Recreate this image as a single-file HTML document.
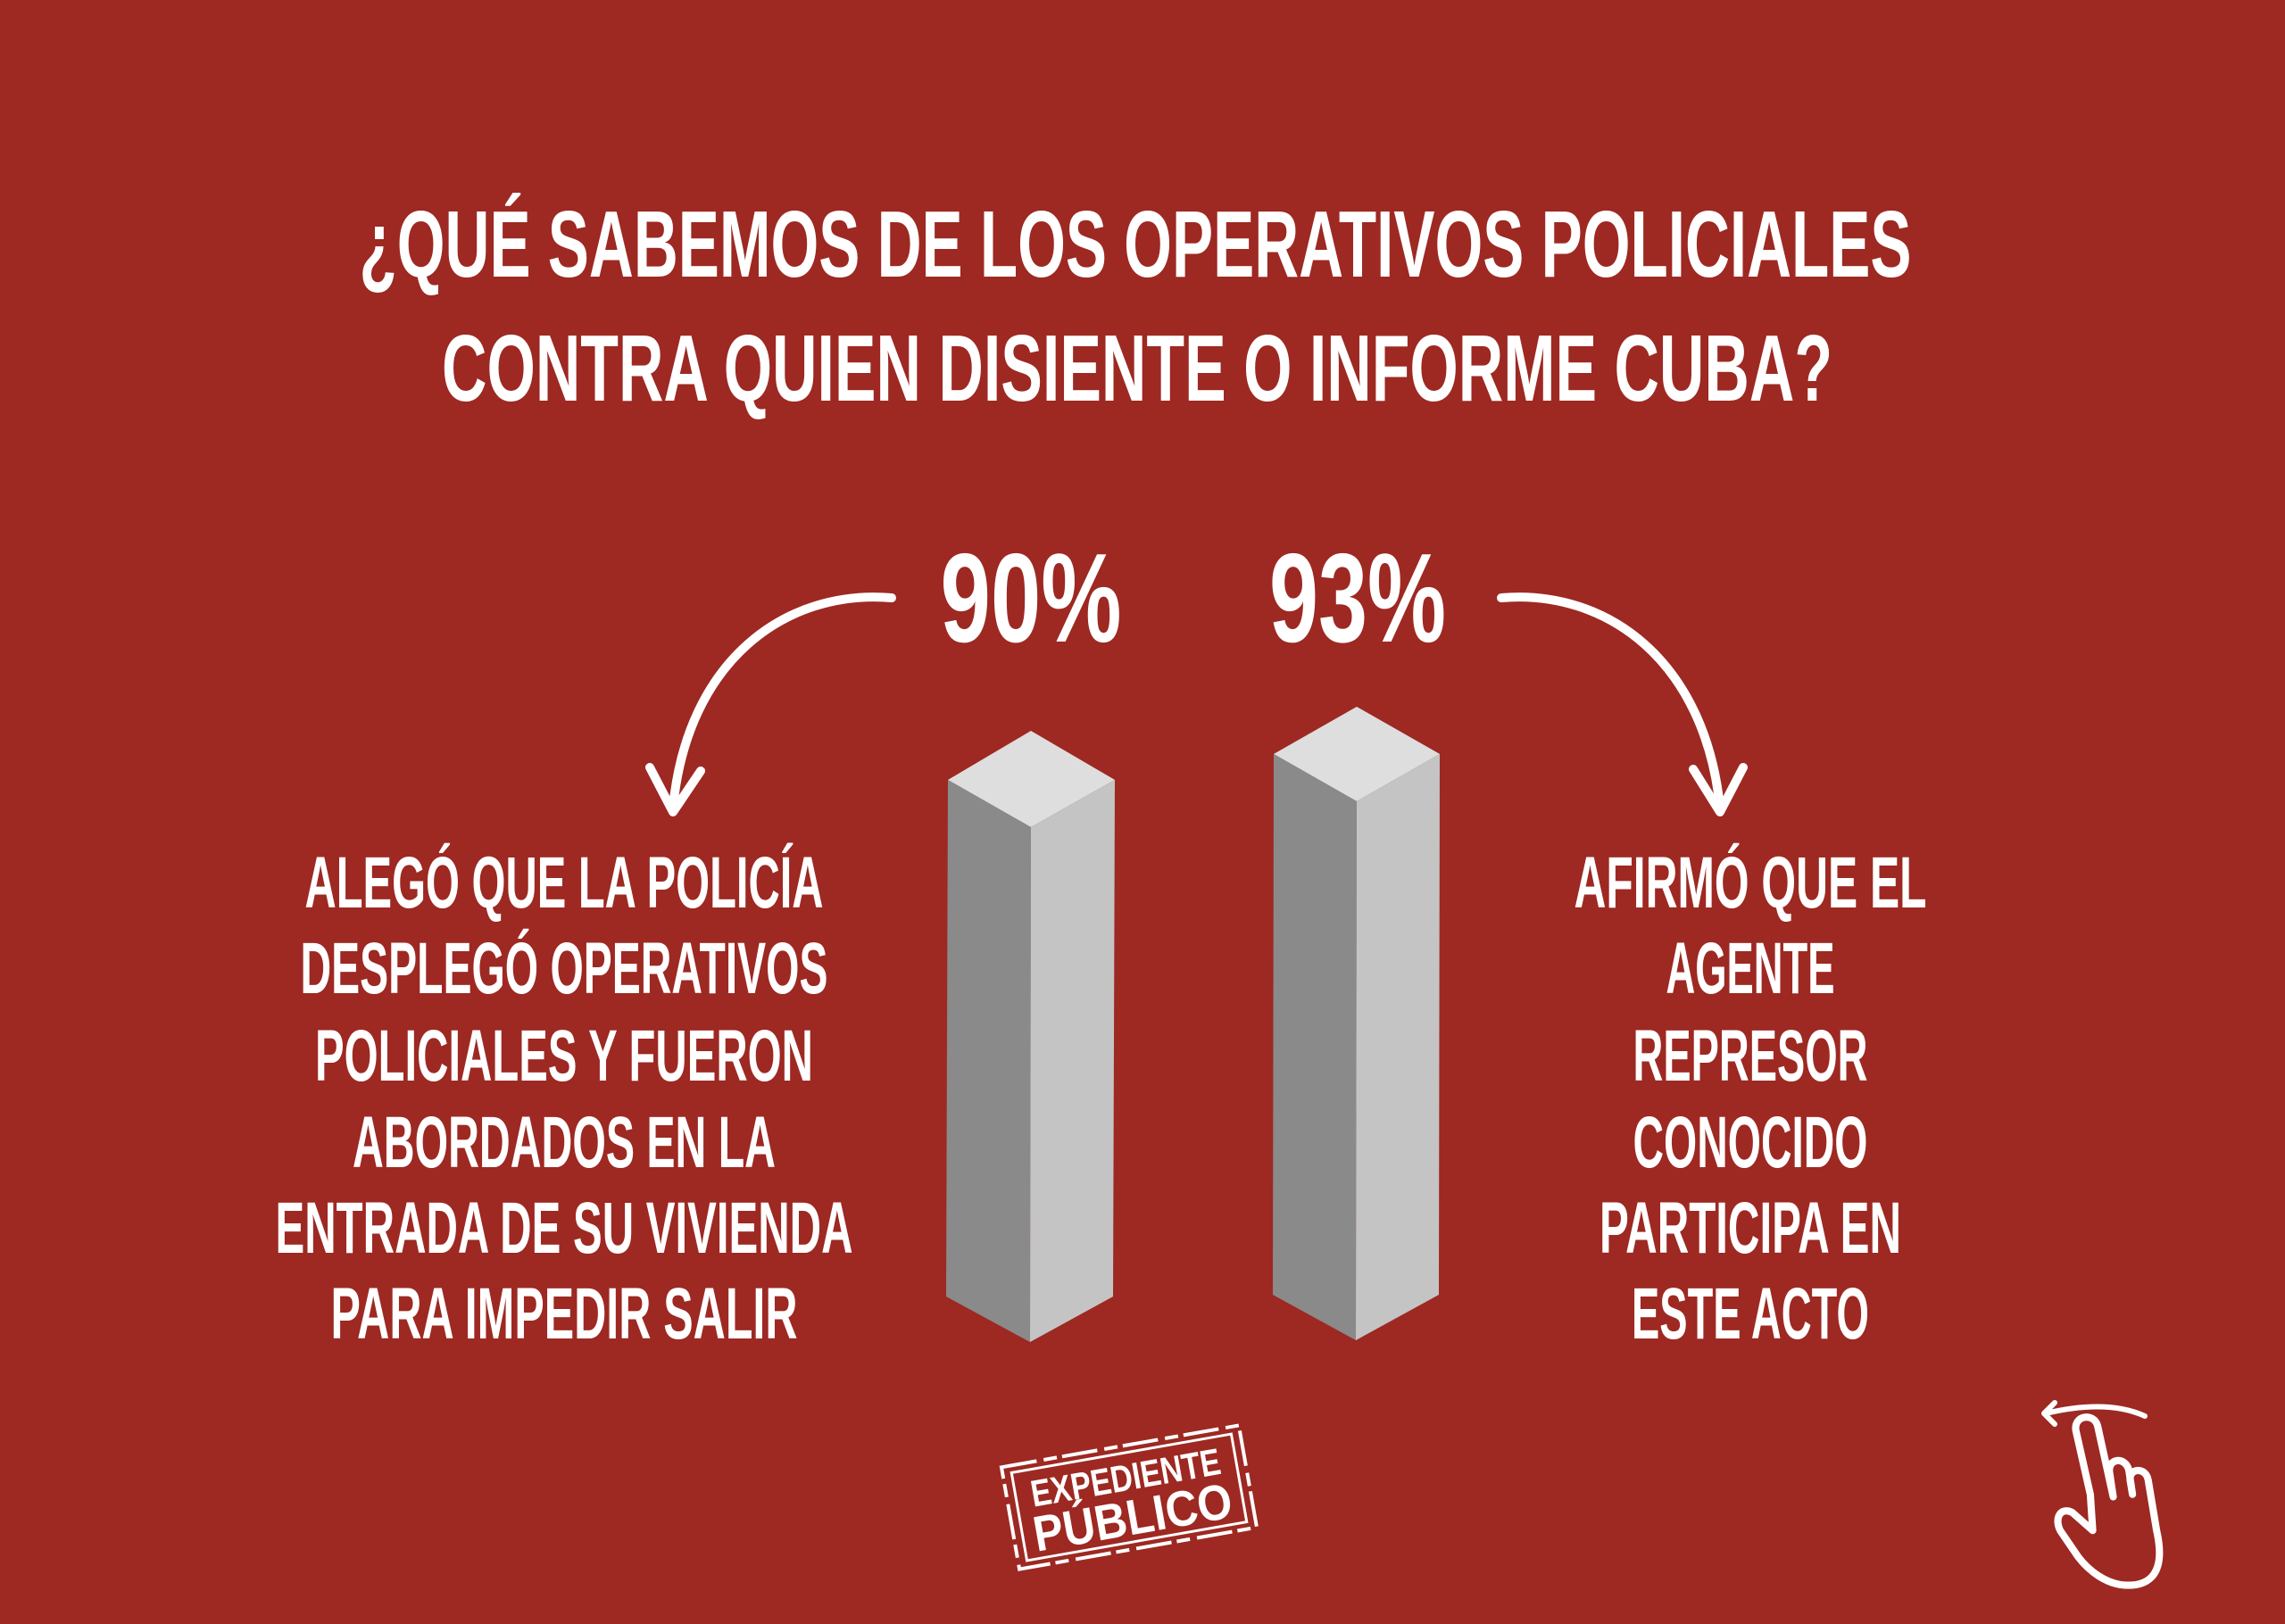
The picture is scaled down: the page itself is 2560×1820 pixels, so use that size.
<!DOCTYPE html>
<html><head><meta charset="utf-8"><style>
html,body{margin:0;padding:0;background:#9d2922}
svg{display:block}
text{font-family:"Liberation Sans Narrow","Liberation Sans",sans-serif;font-weight:bold;fill:#fff}
</style></head><body>
<svg width="2560" height="1820" viewBox="0 0 2560 1820" xmlns="http://www.w3.org/2000/svg">
<rect width="2560" height="1820" fill="#9d2922"/>
<g font-size="106">
<text x="1272" y="310" text-anchor="middle" textLength="1739" lengthAdjust="spacingAndGlyphs">¿QUÉ SABEMOS DE LOS OPERATIVOS POLICIALES</text>
<text x="1274" y="449" text-anchor="middle" textLength="1558" lengthAdjust="spacingAndGlyphs">CONTRA QUIEN DISIENTE O INFORME CUBA?</text>
</g>
<g font-size="142">
<text x="1155" y="719" text-anchor="middle" textLength="203" lengthAdjust="spacingAndGlyphs">90%</text>
<text x="1521" y="719" text-anchor="middle" textLength="198" lengthAdjust="spacingAndGlyphs">93%</text>
</g>
<!-- bar 1 -->
<polygon points="1155,819 1249,874 1155,927 1062,874" fill="#dedede"/>
<polygon points="1062,874 1155,927 1154,1504 1060,1453" fill="#8a8a8a"/>
<polygon points="1155,927 1249,874 1247,1453 1154,1504" fill="#c4c4c4"/>
<!-- bar 2 -->
<polygon points="1520,792 1613,845 1520,898 1427,845" fill="#dedede"/>
<polygon points="1427,845 1520,898 1519,1502 1426,1451" fill="#8a8a8a"/>
<polygon points="1520,898 1613,845 1612,1451 1519,1502" fill="#c4c4c4"/>
<!-- arrows -->
<g fill="none" stroke="#fff" stroke-width="10" stroke-linecap="round" stroke-linejoin="round">
<path d="M999,670 C880,660 770,740 754,905"/>
<path d="M728,860 L754,910 L785,864"/>
<path d="M1682,670 C1800,660 1910,740 1927,905"/>
<path d="M1897,862 L1927,910 L1953,860"/>
</g>
<g font-size="82">
<text x="632" y="1017" text-anchor="middle" textLength="581" lengthAdjust="spacingAndGlyphs">ALEGÓ QUE LA POLICÍA</text>
<text x="632" y="1113" text-anchor="middle" textLength="591" lengthAdjust="spacingAndGlyphs">DESPLEGÓ OPERATIVOS</text>
<text x="632" y="1211" text-anchor="middle" textLength="558" lengthAdjust="spacingAndGlyphs">POLICIALES Y FUERON</text>
<text x="632" y="1308" text-anchor="middle" textLength="474" lengthAdjust="spacingAndGlyphs">ABORDADOS EN LA</text>
<text x="632" y="1404" text-anchor="middle" textLength="647" lengthAdjust="spacingAndGlyphs">ENTRADA DE SU VIVIENDA</text>
<text x="632" y="1500" text-anchor="middle" textLength="523" lengthAdjust="spacingAndGlyphs">PARA IMPEDIR SALIR</text>
<text x="1961" y="1017" text-anchor="middle" textLength="395" lengthAdjust="spacingAndGlyphs">AFIRMÓ QUE EL</text>
<text x="1961" y="1113" text-anchor="middle" textLength="189" lengthAdjust="spacingAndGlyphs">AGENTE</text>
<text x="1961" y="1211" text-anchor="middle" textLength="263" lengthAdjust="spacingAndGlyphs">REPRESOR</text>
<text x="1961" y="1308" text-anchor="middle" textLength="263" lengthAdjust="spacingAndGlyphs">CONOCIDO</text>
<text x="1961" y="1404" text-anchor="middle" textLength="338" lengthAdjust="spacingAndGlyphs">PARTICIPA EN</text>
<text x="1961" y="1500" text-anchor="middle" textLength="266" lengthAdjust="spacingAndGlyphs">ESTE ACTO</text>
</g>
<!-- logo stamp -->
<g transform="translate(1265,1678) rotate(-10)">
<rect x="-135" y="-58" width="270" height="116" fill="none" stroke="#fff" stroke-width="4" stroke-dasharray="40 8 15 6"/>
<rect x="-125" y="-50" width="250" height="100" fill="none" stroke="#fff" stroke-width="3"/>
<text x="0" y="-8" text-anchor="middle" font-size="42" textLength="215" lengthAdjust="spacingAndGlyphs">EXPEDIENTE</text>
<text x="0" y="42" text-anchor="middle" font-size="56" textLength="225" lengthAdjust="spacingAndGlyphs">PÚBLICO</text>
</g>
<!-- hand icon -->
<g fill="none" stroke="#fff" stroke-width="6" stroke-linecap="round" stroke-linejoin="round">
<path d="M2403,1587 C2370,1572 2330,1575 2292,1584"/>
<path d="M2302,1572 L2290,1584 L2302,1596"/>
<g transform="translate(2296,1560) scale(1.35) translate(-2296,-1560) translate(-25,-15)">
<path d="M2355,1660 L2343,1607 C2341,1594 2358,1592 2361,1603 L2374,1662 L2371,1642 C2369,1630 2384,1628 2387,1640 L2390,1660 L2388,1648 C2387,1638 2401,1637 2403,1648 L2410,1690 C2418,1725 2405,1738 2380,1735 C2368,1733 2355,1725 2345,1712 L2330,1690 C2325,1680 2330,1670 2340,1675 L2357,1690 Z"/>
</g>
</g>
</svg>
</body></html>
